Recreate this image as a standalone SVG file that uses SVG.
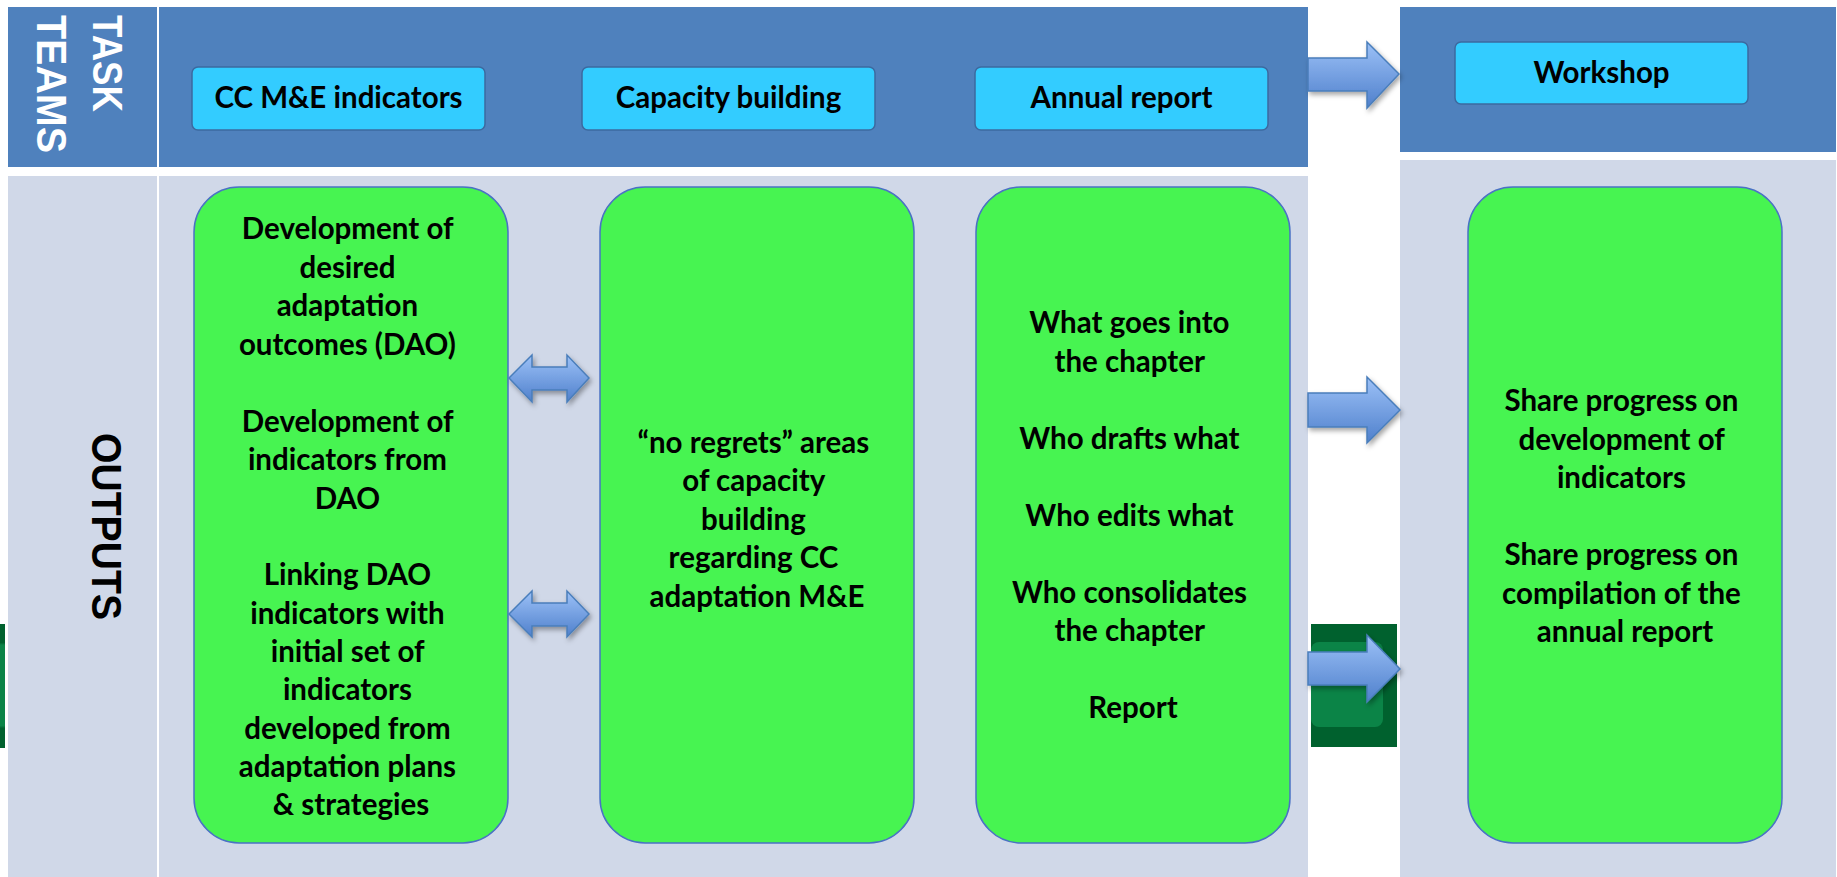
<svg xmlns="http://www.w3.org/2000/svg" width="1837" height="877" viewBox="0 0 1837 877">
<style>
.band{fill:#4f81bd}
.pane{fill:#d0d8e8}
.team{fill:#33ccff;stroke:#3c6aa0;stroke-width:1.5}
.out{fill:#47f451;stroke:#4a72c4;stroke-width:1.5}
.t{font-family:Lato,"Liberation Sans",sans-serif;font-weight:700;font-size:29.5px;fill:#000;text-anchor:middle}
.lab{font-family:"Liberation Sans",Arial,sans-serif;font-weight:700;font-size:42px}
.arr{fill:url(#ag);stroke:#4a7ebb;stroke-width:1.5;filter:url(#sh)}
</style>
<defs>
<linearGradient id="ag" x1="0" y1="0" x2="0" y2="1">
<stop offset="0" stop-color="#9cc1f7"/>
<stop offset="1" stop-color="#4f80cc"/>
</linearGradient>
<linearGradient id="dg" x1="0" y1="0" x2="0" y2="1">
<stop offset="0" stop-color="#00612e"/>
<stop offset="0.15" stop-color="#00612e"/>
<stop offset="0.17" stop-color="#0b8447"/>
<stop offset="0.82" stop-color="#0b8447"/>
<stop offset="0.84" stop-color="#00612e"/>
<stop offset="1" stop-color="#00612e"/>
</linearGradient>
<filter id="sh" x="-20%" y="-20%" width="150%" height="160%">
<feDropShadow dx="2" dy="3" stdDeviation="2.5" flood-color="#000" flood-opacity="0.35"/>
</filter>
</defs>
<rect width="1837" height="877" fill="#fff"/>

<g id="background">
<rect class="band" x="8" y="7" width="149" height="160"/>
<rect class="band" x="159" y="7" width="1149" height="160"/>
<rect class="pane" x="8" y="176" width="149" height="701"/>
<rect class="pane" x="159" y="176" width="1149" height="701"/>
<rect class="band" x="1400" y="7" width="436" height="145"/>
<rect class="pane" x="1400" y="160" width="436" height="717"/>
<rect x="0" y="624" width="5" height="124" fill="url(#dg)"/>
<rect x="1311" y="624" width="86" height="123" fill="#00612e"/>
<rect x="1311" y="642" width="72" height="85" rx="8" fill="#0b8447"/>
</g>

<g id="labels" fill="#fff">
<text class="lab" transform="translate(93,15) rotate(90)" textLength="97" lengthAdjust="spacingAndGlyphs">TASK</text>
<text class="lab" transform="translate(37,15) rotate(90)" textLength="138" lengthAdjust="spacingAndGlyphs">TEAMS</text>
<text class="lab" fill="#000" transform="translate(92,433) rotate(90)" textLength="187" lengthAdjust="spacingAndGlyphs">OUTPUTS</text>
</g>

<g id="team-cc">
<rect class="team" x="192" y="67" width="293" height="63" rx="6"/>
<text class="t" x="338.5" y="108">CC M&amp;E indicators</text>
</g>
<g id="team-capacity">
<rect class="team" x="582" y="67" width="293" height="63" rx="6"/>
<text class="t" x="728.5" y="108">Capacity building</text>
</g>
<g id="team-annual">
<rect class="team" x="975" y="67" width="293" height="63" rx="6"/>
<text class="t" x="1121.5" y="108">Annual report</text>
</g>
<g id="team-workshop">
<rect class="team" x="1455" y="42" width="293" height="62" rx="6"/>
<text class="t" x="1601.5" y="83">Workshop</text>
</g>

<g id="out-cc">
<rect class="out" x="194" y="187" width="314" height="656" rx="45"/>
<text class="t">
<tspan x="351" y="239">Development of</tspan>
<tspan x="351" y="277.5">desired</tspan>
<tspan x="351" y="316">adaptation</tspan>
<tspan x="351" y="354.5">outcomes (DAO)</tspan>
<tspan x="351" y="431.5">Development of</tspan>
<tspan x="351" y="470">indicators from</tspan>
<tspan x="351" y="508.5">DAO</tspan>
<tspan x="351" y="585">Linking DAO</tspan>
<tspan x="351" y="623.5">indicators with</tspan>
<tspan x="351" y="662">initial set of</tspan>
<tspan x="351" y="700">indicators</tspan>
<tspan x="351" y="738.5">developed from</tspan>
<tspan x="351" y="776.5">adaptation plans</tspan>
<tspan x="351" y="815">&amp; strategies</tspan>
</text>
</g>

<g id="out-capacity">
<rect class="out" x="600" y="187" width="314" height="656" rx="45"/>
<text class="t">
<tspan x="757" y="452.5">“no regrets” areas</tspan>
<tspan x="757" y="491">of capacity</tspan>
<tspan x="757" y="529.5">building</tspan>
<tspan x="757" y="568">regarding CC</tspan>
<tspan x="757" y="606.5">adaptation M&amp;E</tspan>
</text>
</g>

<g id="out-annual">
<rect class="out" x="976" y="187" width="314" height="656" rx="45"/>
<text class="t">
<tspan x="1133" y="333">What goes into</tspan>
<tspan x="1133" y="371.5">the chapter</tspan>
<tspan x="1133" y="448.5">Who drafts what</tspan>
<tspan x="1133" y="525.5">Who edits what</tspan>
<tspan x="1133" y="602.5">Who consolidates</tspan>
<tspan x="1133" y="641">the chapter</tspan>
<tspan x="1133" y="718">Report</tspan>
</text>
</g>

<g id="out-workshop">
<rect class="out" x="1468" y="187" width="314" height="656" rx="45"/>
<text class="t">
<tspan x="1625" y="411">Share progress on</tspan>
<tspan x="1625" y="449.5">development of</tspan>
<tspan x="1625" y="488">indicators</tspan>
<tspan x="1625" y="565">Share progress on</tspan>
<tspan x="1625" y="603.5">compilation of the</tspan>
<tspan x="1625" y="642">annual report</tspan>
</text>
</g>

<g id="connectors">
<polygon class="arr" points="509,378 532,355 532,367 567,367 567,355 589,378 567,402 567,390 532,390 532,402"/>
<polygon class="arr" points="509,614 532,591 532,603 567,603 567,591 589,614 567,637 567,626 532,626 532,637"/>
<polygon class="arr" points="1308,58 1367,58 1367,42 1399,74 1367,108 1367,91 1308,91"/>
<polygon class="arr" points="1308,393 1367,393 1367,377 1400,410 1367,443 1367,427 1308,427"/>
<polygon class="arr" points="1308,652 1367,652 1367,635 1400,669 1367,702 1367,685 1308,685"/>
</g>
</svg>
